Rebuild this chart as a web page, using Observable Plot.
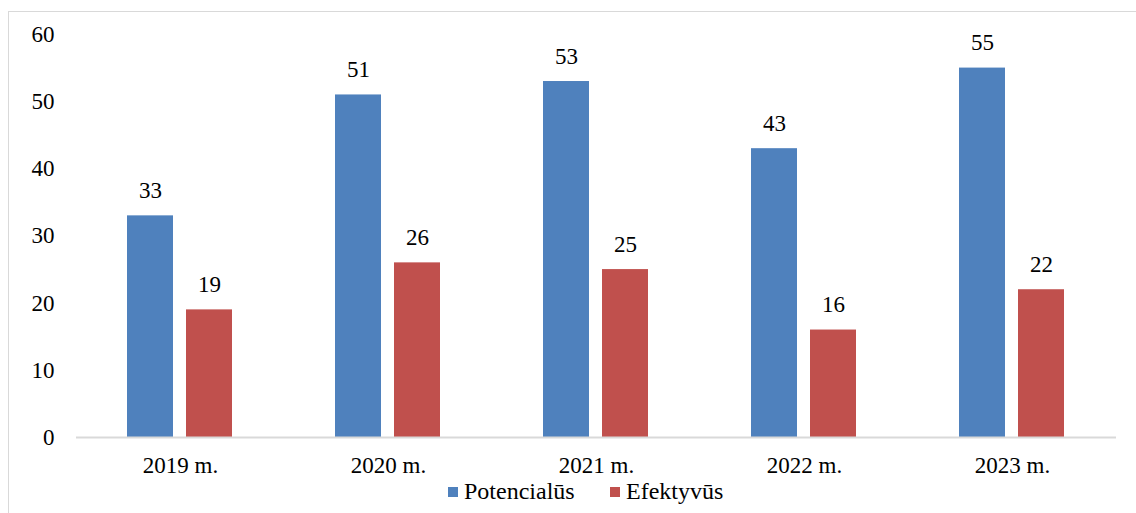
<!DOCTYPE html>
<html>
<head>
<meta charset="utf-8">
<script src="https://cdn.jsdelivr.net/npm/d3@7"></script>
<script src="https://cdn.jsdelivr.net/npm/@observablehq/plot@0.6"></script>
<style>
  body { margin: 0; background: #fff; }
  .frame { position: absolute; left: 8px; top: 11px; width: 1128px; height: 502px; border-top: 1px solid #d9d9d9; border-left: 1px solid #d9d9d9; box-sizing: border-box; pointer-events: none; }
  .chartbox { position: absolute; left: 0; top: 0; }
  .legendbox { position: absolute; top: 478px; left: 0; width: 1136px; height: 30px; font-size: 24px; color: #000; }
  .item { position: absolute; top: 0; display: flex; align-items: center; white-space: nowrap; }
  .sw { width: 10px; height: 10px; margin-right: 6px; }
</style>
</head>
<body>
<div class="frame"></div>
<div class="chartbox" id="chart"></div>
<div class="legendbox" id="legend"></div>
<script>
const years = ["2019 m.", "2020 m.", "2021 m.", "2022 m.", "2023 m."];
const seriesNames = ["Potencialūs", "Efektyvūs"];
const potencialus = [33, 51, 53, 43, 55];
const efektyvus = [19, 26, 25, 16, 22];
const colors = ["#4F81BD", "#C0504D"];
const yTicks = [0, 10, 20, 30, 40, 50, 60];

const data = [];
years.forEach((yr, i) => {
  data.push({year: yr, series: seriesNames[0], value: potencialus[i]});
  data.push({year: yr, series: seriesNames[1], value: efektyvus[i]});
});

const serifFont = '"Liberation Serif", serif';

const chart = Plot.plot({
  width: 1136,
  height: 513,
  marginLeft: 75,
  marginRight: 19,
  marginTop: 34,
  marginBottom: 76,
  style: {fontSize: "23px", color: "#000", background: "transparent"},
  fx: {domain: years, padding: 0, label: null, tickSize: 0, tickPadding: 19, axis: "bottom"},
  x: {domain: seriesNames, axis: null, paddingInner: 0.2167, paddingOuter: 0.845},
  y: {domain: [0, 60], ticks: yTicks, tickSize: 0, tickPadding: 22, label: null, grid: false},
  color: {domain: seriesNames, range: colors},
  marks: [
    Plot.barY(data, {fx: "year", x: "series", y: "value", fill: "series"}),
    Plot.ruleY([0], {stroke: "#d9d9d9", strokeWidth: 2}),
    Plot.text(data, {fx: "year", x: "series", y: "value", text: d => String(d.value), lineAnchor: "bottom", dy: -18, fill: "#000", fontSize: 23})
  ]
});
chart.style.fontFamily = serifFont;
chart.setAttribute("font-family", serifFont);
chart.querySelectorAll("g, text, tspan").forEach(el => {
  el.setAttribute("font-family", serifFont);
  el.style.fontFamily = serifFont;
});
document.getElementById("chart").appendChild(chart);

const legend = document.getElementById("legend");
legend.style.fontFamily = serifFont;
const positions = [448, 610];
seriesNames.forEach((s, i) => {
  const item = document.createElement("div");
  item.className = "item";
  item.style.left = positions[i] + "px";
  const sw = document.createElement("div");
  sw.className = "sw";
  sw.style.background = colors[i];
  const t = document.createElement("span");
  t.textContent = s;
  t.style.fontFamily = serifFont;
  item.appendChild(sw);
  item.appendChild(t);
  legend.appendChild(item);
});
</script>
</body>
</html>
